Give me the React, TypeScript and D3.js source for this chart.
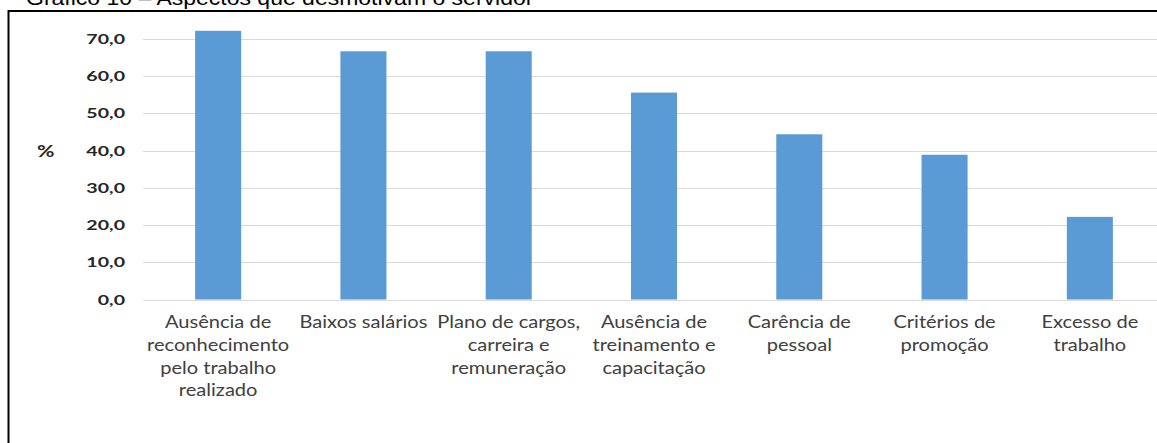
import React from "react";
import * as d3 from "d3";

const title = "Gráfico 10 – Aspectos que desmotivam o servidor";
const categories = [
  "Ausência de\nreconhecimento\npelo trabalho\nrealizado",
  "Baixos salários",
  "Plano de cargos,\ncarreira e\nremuneração",
  "Ausência de\ntreinamento e\ncapacitação",
  "Carência de\npessoal",
  "Critérios de\npromoção",
  "Excesso de\ntrabalho",
];
const values = [72.2, 66.7, 66.7, 55.6, 44.4, 38.9, 22.2];
const yTicks = [0, 10, 20, 30, 40, 50, 60, 70];
const yAxisTitle = "%";

const W = 1157;
const H = 443;

export default function App() {
  const x = d3
    .scaleBand<string>()
    .domain(categories)
    .range([145.5, 1162.5])
    .paddingInner(0.683)
    .paddingOuter(0.683 / 2);
  const y = d3.scaleLinear().domain([0, 70]).range([299.5, 39]);
  const fmt = (v: number) => d3.format(".1f")(v).replace(".", ",");
  const sx = 1.4;

  return (
    <svg
      width={W}
      height={H}
      style={{ position: "absolute", left: 0, top: 0, display: "block", background: "#fff" }}
    >
      <rect x={0} y={0} width={W} height={H} fill="#fff" />
      {/* title (cut at top) */}
      <g transform={`translate(26,5) scale(1.15,1)`}>
        <text x={0} y={0} fontFamily="Liberation Sans, Arial, sans-serif" fontSize={20} fill="#000">
          {title}
        </text>
      </g>
      {/* frame */}
      <path d={`M8.5,${H + 2} V11 H${W + 2}`} fill="none" stroke="#000" strokeWidth={2} />
      {/* gridlines */}
      {yTicks.map((t) => (
        <line
          key={t}
          x1={143}
          x2={W + 2}
          y1={Math.round(y(t)) + 0.5}
          y2={Math.round(y(t)) + 0.5}
          stroke="#d9d9d9"
          strokeWidth={1}
        />
      ))}
      {/* y labels */}
      {yTicks.map((t) => (
        <g key={"l" + t} transform={`translate(125,${y(t) + 5}) scale(${sx},1)`}>
          <text
            x={0}
            y={0}
            textAnchor="end"
            fontFamily="Lato, sans-serif"
            fontWeight={700}
            fontSize={14}
            fill="#262626"
          >
            {fmt(t)}
          </text>
        </g>
      ))}
      <g transform={`translate(37,${y(40) + 6}) scale(1.25,1)`}>
        <text x={0} y={0} fontFamily="Lato, sans-serif" fontWeight={700} fontSize={17} fill="#262626">
          {yAxisTitle}
        </text>
      </g>
      {/* bars */}
      {categories.map((c, i) => (
        <rect
          key={c}
          x={x(c)!}
          y={y(values[i])}
          width={x.bandwidth()}
          height={y(0) - y(values[i])}
          fill="#5b9bd5"
        />
      ))}
      {/* x labels */}
      {categories.map((c) => {
        const cx = x(c)! + x.bandwidth() / 2;
        return c.split("\n").map((line, j) => (
          <g key={c + j} transform={`translate(${cx},${328 + j * 22.8}) scale(1.18,1)`}>
            <text x={0} y={0} textAnchor="middle" fontFamily="Lato, sans-serif" fontSize={17} fill="#404040">
              {line}
            </text>
          </g>
        ));
      })}
    </svg>
  );
}
